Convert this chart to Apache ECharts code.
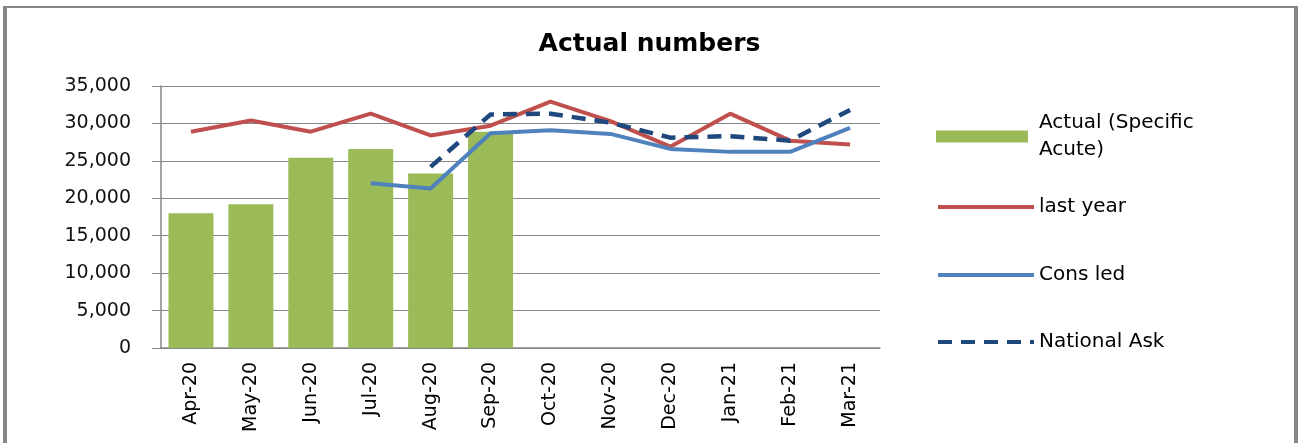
<!DOCTYPE html>
<html>
<head>
<meta charset="UTF-8">
<script src="https://cdn.jsdelivr.net/npm/echarts@6/dist/echarts.min.js"></script>
<title>Actual numbers</title>
<style>
  html, body { margin: 0; padding: 0; background: #fff; }
  #main { width: 1299px; height: 443px; }
</style>
</head>
<body>
<div id="main"></div>
<script type="text/javascript">
    // chart data
    var months    = ['Apr-20','May-20','Jun-20','Jul-20','Aug-20','Sep-20','Oct-20','Nov-20','Dec-20','Jan-21','Feb-21','Mar-21'];
    var actual    = [18000, 19200, 25400, 26600, 23300, 28900, null, null, null, null, null, null];
    var lastYear  = [28900, 30400, 28900, 31300, 28400, 29700, 32900, 30300, 26900, 31300, 27700, 27200];
    var consLed   = [null, null, null, 22000, 21300, 28700, 29100, 28600, 26600, 26200, 26200, 29400];
    var natAsk    = [null, null, null, null, 24200, 31200, 31300, 30100, 28100, 28300, 27700, 31800];
    var yTicks    = [0, 5000, 10000, 15000, 20000, 25000, 30000, 35000];

    var font = 'DejaVu Sans';
    var gray = '#868686';

    var myChart = echarts.init(document.getElementById('main'));

    // one legend per entry so each can sit where excel put it
    function legendAt(name, top, extra) {
        var l = {
            data: [name],
            orient: 'vertical',
            left: 936,
            top: top,
            padding: 0,
            itemWidth: 96,
            itemHeight: 12,
            itemGap: 0,
            itemStyle: { opacity: 0 },
            lineStyle: { width: 4 },
            textStyle: { fontFamily: font, fontSize: 20, color: '#000', lineHeight: 24 }
        };
        for (var k in extra) { l[k] = extra[k]; }
        return l;
    }

    myChart.setOption({
        animation: false,
        title: {
            text: 'Actual numbers',
            left: 'center',
            top: 27,
            textStyle: { fontFamily: font, fontSize: 25, fontWeight: 'bold', color: '#000' }
        },
        legend: [
            legendAt('Actual (Specific Acute)', 96, {
                icon: 'rect',
                itemWidth: 92,
                itemStyle: {},
                formatter: function () { return 'Actual (Specific\nAcute)'; },
                textStyle: { fontFamily: font, fontSize: 20, color: '#000', lineHeight: 27, padding: [27, 0, 0, 6] }
            }),
            legendAt('last year', 195),
            legendAt('Cons led', 263),
            legendAt('National Ask', 330)
        ],
        grid: { left: 161, right: 419, top: 86, bottom: 95 },
        xAxis: {
            type: 'category',
            data: months,
            axisLine: { lineStyle: { color: gray, width: 1.5 } },
            axisTick: { alignWithLabel: false, length: 7, lineStyle: { color: gray } },
            axisLabel: { rotate: 90, margin: 14, fontFamily: font, fontSize: 19, color: '#000' }
        },
        yAxis: {
            type: 'value',
            min: 0,
            max: 35000,
            interval: 5000,
            axisLine: { show: true, lineStyle: { color: gray, width: 1.5 } },
            axisTick: { show: true, length: 9, lineStyle: { color: gray } },
            splitLine: { lineStyle: { color: gray, width: 1 } },
            axisLabel: {
                margin: 30,
                fontFamily: font,
                fontSize: 19,
                color: '#111',
                formatter: function (v) { return v.toLocaleString('en-US'); }
            }
        },
        series: [
            {
                name: 'Actual (Specific Acute)',
                type: 'bar',
                barWidth: 45,
                itemStyle: { color: '#9BBB59' },
                data: actual
            },
            {
                name: 'last year',
                type: 'line',
                symbol: 'none',
                lineStyle: { color: '#C0504D', width: 4 },
                itemStyle: { color: '#C0504D' },
                data: lastYear
            },
            {
                name: 'Cons led',
                type: 'line',
                symbol: 'none',
                lineStyle: { color: '#4F81BD', width: 4 },
                itemStyle: { color: '#4F81BD' },
                data: consLed
            },
            {
                name: 'National Ask',
                type: 'line',
                symbol: 'none',
                lineStyle: { color: '#1F497D', width: 4.5, type: [14, 9] },
                itemStyle: { color: '#1F497D' },
                data: natAsk
            }
        ],
        graphic: [
            // chart frame: left, top and right edges only
            { type: 'line', shape: { x1: 5, y1: 6, x2: 5, y2: 443 }, style: { stroke: gray, lineWidth: 4 } },
            { type: 'line', shape: { x1: 3, y1: 7, x2: 1297, y2: 7 }, style: { stroke: gray, lineWidth: 2 } },
            { type: 'line', shape: { x1: 1296, y1: 6, x2: 1296, y2: 443 }, style: { stroke: gray, lineWidth: 4 } }
        ]
    });
</script>
</body>
</html>
